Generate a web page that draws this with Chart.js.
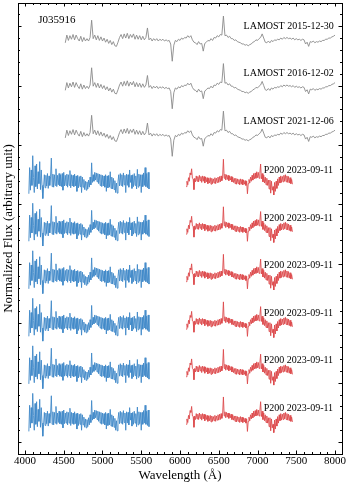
<!DOCTYPE html>
<html>
<head>
<meta charset="utf-8">
<script src="https://cdn.jsdelivr.net/npm/chart.js@4.4.1/dist/chart.umd.min.js"></script>
<style>
  html, body { margin: 0; padding: 0; background: #ffffff; }
  #spec { display: block; }
</style>
</head>
<body>
<canvas id="spec" width="350" height="485"></canvas>
<script>
// wavelength grids (Angstrom): start + step per instrument
const LAMOST_START = 4520, LAMOST_STEP = 20;
const BLUE_START = 4050, BLUE_STEP = 10;
const RED_START = 6080, RED_STEP = 10;

// normalized flux
const lamostFlux = [
  0.92, 1.05, 0.96, 1.04, 0.98, 1.06, 0.97, 1.05, 0.99, 0.95,
  1.03, 0.94, 1.01, 0.95, 0.99, 0.95, 1.01, 1.30, 0.99, 1.05,
  0.97, 1.04, 0.96, 1.02, 0.95, 1.00, 0.93, 0.98, 0.91, 0.96,
  0.89, 0.94, 0.87, 0.86, 0.93, 1.01, 1.06, 0.99, 1.07, 1.00,
  1.08, 0.99, 1.06, 1.01, 1.07, 0.98, 1.05, 0.98, 1.04, 0.97,
  1.03, 0.97, 1.01, 1.17, 0.97, 1.00, 0.95, 0.99, 0.96, 0.99,
  0.95, 0.98, 0.96, 0.98, 0.95, 0.97, 0.95, 0.96, 0.90, 0.61,
  0.88, 0.96, 0.94, 0.98, 0.96, 1.00, 0.98, 1.01, 1.00, 1.04,
  1.01, 1.04, 0.97, 0.93, 0.92, 0.89, 0.94, 0.90, 0.91, 0.78,
  0.91, 0.93, 0.96, 0.95, 0.99, 0.96, 1.01, 1.00, 1.04, 1.02,
  1.06, 1.05, 1.37, 1.04, 1.05, 1.01, 1.03, 0.99, 0.99, 0.96,
  0.97, 0.94, 0.93, 0.92, 0.90, 0.90, 0.88, 0.89, 0.87, 0.89,
  0.90, 0.93, 0.94, 0.97, 0.96, 0.99, 1.01, 1.07, 1.00, 0.93,
  0.92, 0.95, 0.92, 0.96, 0.94, 0.97, 0.96, 0.98, 0.97, 1.00,
  0.98, 1.01, 0.99, 1.01, 0.99, 1.00, 0.98, 1.00, 0.97, 0.99,
  0.97, 0.98, 0.96, 0.98, 0.97, 0.90, 0.93, 0.86, 0.94, 0.93,
  0.95, 0.92, 0.94, 0.93, 0.95, 0.94, 0.96, 0.96, 0.98, 0.98,
  1.00, 1.00, 1.02, 1.03, 1.05
];

const blueFlux = [
  0.78, 1.22, 0.84, 1.18, 0.92, 1.42, 1.05, 0.80, 1.25, 0.90,
  1.28, 0.86, 1.15, 0.95, 1.32, 0.85, 1.18, 0.92, 0.70, 0.90,
  1.10, 0.88, 1.09, 0.91, 1.12, 0.87, 1.08, 0.92, 1.07, 1.38,
  0.90, 1.11, 0.89, 1.10, 0.92, 1.20, 0.90, 1.09, 0.93, 1.12,
  0.91, 1.10, 0.90, 1.12, 0.84, 1.14, 0.91, 1.09, 0.92, 1.11,
  0.89, 1.10, 0.92, 1.17, 0.88, 1.10, 0.91, 1.09, 0.90, 1.11,
  0.91, 1.08, 0.82, 1.09, 0.88, 1.07, 0.90, 1.08, 0.80, 1.06,
  0.89, 1.02, 0.85, 0.99, 0.84, 0.98, 0.86, 1.01, 0.89, 1.06,
  0.93, 1.30, 0.97, 1.10, 0.99, 1.14, 1.01, 1.13, 0.98, 1.12,
  0.95, 1.11, 0.92, 1.10, 0.90, 1.09, 0.91, 1.08, 0.89, 1.10,
  0.82, 1.08, 0.88, 1.09, 0.89, 1.15, 0.87, 1.06, 0.86, 1.04,
  0.85, 1.00, 0.80, 0.96, 0.79, 0.98, 1.10, 0.91, 1.12, 0.92,
  1.10, 0.90, 1.13, 0.93, 1.09, 0.80, 1.11, 0.92, 1.10, 0.89,
  1.18, 0.97, 1.09, 0.87, 1.10, 0.90, 1.12, 0.92, 1.08, 0.86,
  1.19, 0.89, 1.11, 0.91, 1.10, 0.80, 1.10, 0.90, 1.13, 0.92,
  1.22, 0.90, 1.12, 0.88, 1.14, 0.86
];

const redFlux = [
  0.90, 0.99, 0.93, 1.05, 0.99, 1.13, 1.10, 1.20, 1.04, 1.03,
  0.85, 1.04, 0.98, 1.08, 0.99, 1.07, 0.98, 1.09, 1.00, 1.07,
  0.97, 1.08, 0.99, 1.07, 0.96, 1.06, 0.98, 1.05, 0.95, 1.04,
  0.96, 1.05, 0.94, 1.04, 0.95, 1.03, 0.96, 1.05, 0.95, 1.04,
  0.97, 1.06, 0.97, 1.07, 0.98, 1.08, 1.00, 1.07, 1.36, 1.04,
  1.11, 1.01, 1.10, 1.02, 1.09, 1.00, 1.08, 1.01, 1.07, 0.98,
  1.06, 0.97, 1.04, 0.95, 1.04, 0.94, 1.03, 0.95, 1.02, 0.93,
  1.03, 0.94, 1.02, 0.93, 1.01, 0.94, 1.00, 0.92, 0.99, 0.78,
  0.95, 1.02, 0.96, 1.06, 0.99, 1.09, 1.01, 1.12, 1.03, 1.13,
  1.04, 1.15, 1.05, 1.14, 1.04, 1.12, 1.28, 1.03, 1.12, 0.98,
  1.09, 0.96, 1.06, 0.93, 1.04, 0.92, 1.01, 0.86, 1.01, 0.79,
  0.99, 0.84, 0.90, 0.76, 0.97, 0.82, 0.99, 0.87, 1.03, 0.92,
  1.06, 0.96, 1.08, 0.97, 1.07, 0.98, 1.09, 0.99, 1.10, 0.98,
  1.08, 0.97, 1.07, 0.96, 1.05, 0.95, 1.02, 0.94
];

// vertical offsets and labels of the stacked spectra
const lamostOffsets = [5.8, 5.0, 4.2];
const lamostLabels = ['LAMOST 2015-12-30', 'LAMOST 2016-12-02', 'LAMOST 2021-12-06'];
const p200Offsets = [3.4, 2.6, 1.8, 1.0, 0.2, -0.6];
const p200Labels = ['P200 2023-09-11', 'P200 2023-09-11', 'P200 2023-09-11',
                    'P200 2023-09-11', 'P200 2023-09-11', 'P200 2023-09-11'];

const xTicks = [4000, 4500, 5000, 5500, 6000, 6500, 7000, 7500, 8000];

const X_MIN = 3910, X_MAX = 8090;
const Y_MIN = -0.2, Y_MAX = 7.39;
const FONT = "'Liberation Serif', 'Times New Roman', serif";

function toPoints(flux, start, step, off) {
  return flux.map((f, i) => ({ x: start + i * step, y: f + off }));
}

function spectrum(points, color) {
  return {
    data: points,
    borderColor: color,
    borderWidth: 0.9,
    pointRadius: 0,
    tension: 0,
    fill: false
  };
}

const datasets = [];
lamostOffsets.forEach(off => {
  datasets.push(spectrum(toPoints(lamostFlux, LAMOST_START, LAMOST_STEP, off), '#8a8a8a'));
});
p200Offsets.forEach(off => {
  datasets.push(spectrum(toPoints(blueFlux, BLUE_START, BLUE_STEP, off), '#4189c8'));
  datasets.push(spectrum(toPoints(redFlux, RED_START, RED_STEP, off), '#dc4a4c'));
});

// frame with inward ticks on all four sides, tick labels, titles, annotations
const framePlugin = {
  id: 'frame',
  afterDraw(chart) {
    const { ctx, chartArea: a, scales: { x, y } } = chart;
    ctx.save();
    ctx.strokeStyle = '#000';
    ctx.lineWidth = 1;
    ctx.strokeRect(Math.round(a.left) + 0.5, Math.round(a.top) + 0.5,
                   Math.round(a.right - a.left), Math.round(a.bottom - a.top));

    ctx.beginPath();
    for (let v = 4000; v <= X_MAX; v += 100) {
      const px = Math.round(x.getPixelForValue(v)) + 0.5;
      const len = v % 500 === 0 ? 3.5 : 2;
      ctx.moveTo(px, a.bottom); ctx.lineTo(px, a.bottom - len);
      ctx.moveTo(px, a.top); ctx.lineTo(px, a.top + len);
    }
    for (let k = -1; k * 0.2 <= Y_MAX; k++) {
      const py = Math.round(y.getPixelForValue(k * 0.2)) + 0.5;
      const len = k % 5 === 0 ? 3.5 : 2;
      ctx.moveTo(a.left, py); ctx.lineTo(a.left + len, py);
      ctx.moveTo(a.right, py); ctx.lineTo(a.right - len, py);
    }
    ctx.stroke();

    ctx.fillStyle = '#000';
    ctx.font = '11px ' + FONT;
    ctx.textAlign = 'center';
    ctx.textBaseline = 'top';
    xTicks.forEach(v => ctx.fillText(String(v), x.getPixelForValue(v), a.bottom + 2));

    ctx.font = '13px ' + FONT;
    ctx.fillText('Wavelength (Å)', (a.left + a.right) / 2, a.bottom + 15);

    ctx.save();
    ctx.translate(9, (a.top + a.bottom) / 2);
    ctx.rotate(-Math.PI / 2);
    ctx.textBaseline = 'middle';
    ctx.fillText('Normalized Flux (arbitrary unit)', 0, 0);
    ctx.restore();

    ctx.textBaseline = 'middle';
    ctx.textAlign = 'left';
    ctx.font = '11px ' + FONT;
    ctx.fillText('J035916', x.getPixelForValue(4170), y.getPixelForValue(7.1));
    ctx.font = '10px ' + FONT;
    ctx.textAlign = 'right';
    lamostOffsets.forEach((off, i) => {
      ctx.fillText(lamostLabels[i], x.getPixelForValue(7985), y.getPixelForValue(off + 1.2));
    });
    p200Offsets.forEach((off, i) => {
      ctx.fillText(p200Labels[i], x.getPixelForValue(7975), y.getPixelForValue(off + 1.17));
    });
    ctx.restore();
  }
};

new Chart(document.getElementById('spec').getContext('2d'), {
  type: 'line',
  data: { datasets },
  options: {
    responsive: false,
    devicePixelRatio: 1,
    animation: false,
    events: [],
    layout: { padding: { left: 18, top: 3, right: 8, bottom: 31 } },
    plugins: { legend: { display: false }, tooltip: { enabled: false } },
    scales: {
      x: { type: 'linear', min: X_MIN, max: X_MAX, display: false },
      y: { type: 'linear', min: Y_MIN, max: Y_MAX, display: false }
    }
  },
  plugins: [framePlugin]
});
</script>
</body>
</html>
